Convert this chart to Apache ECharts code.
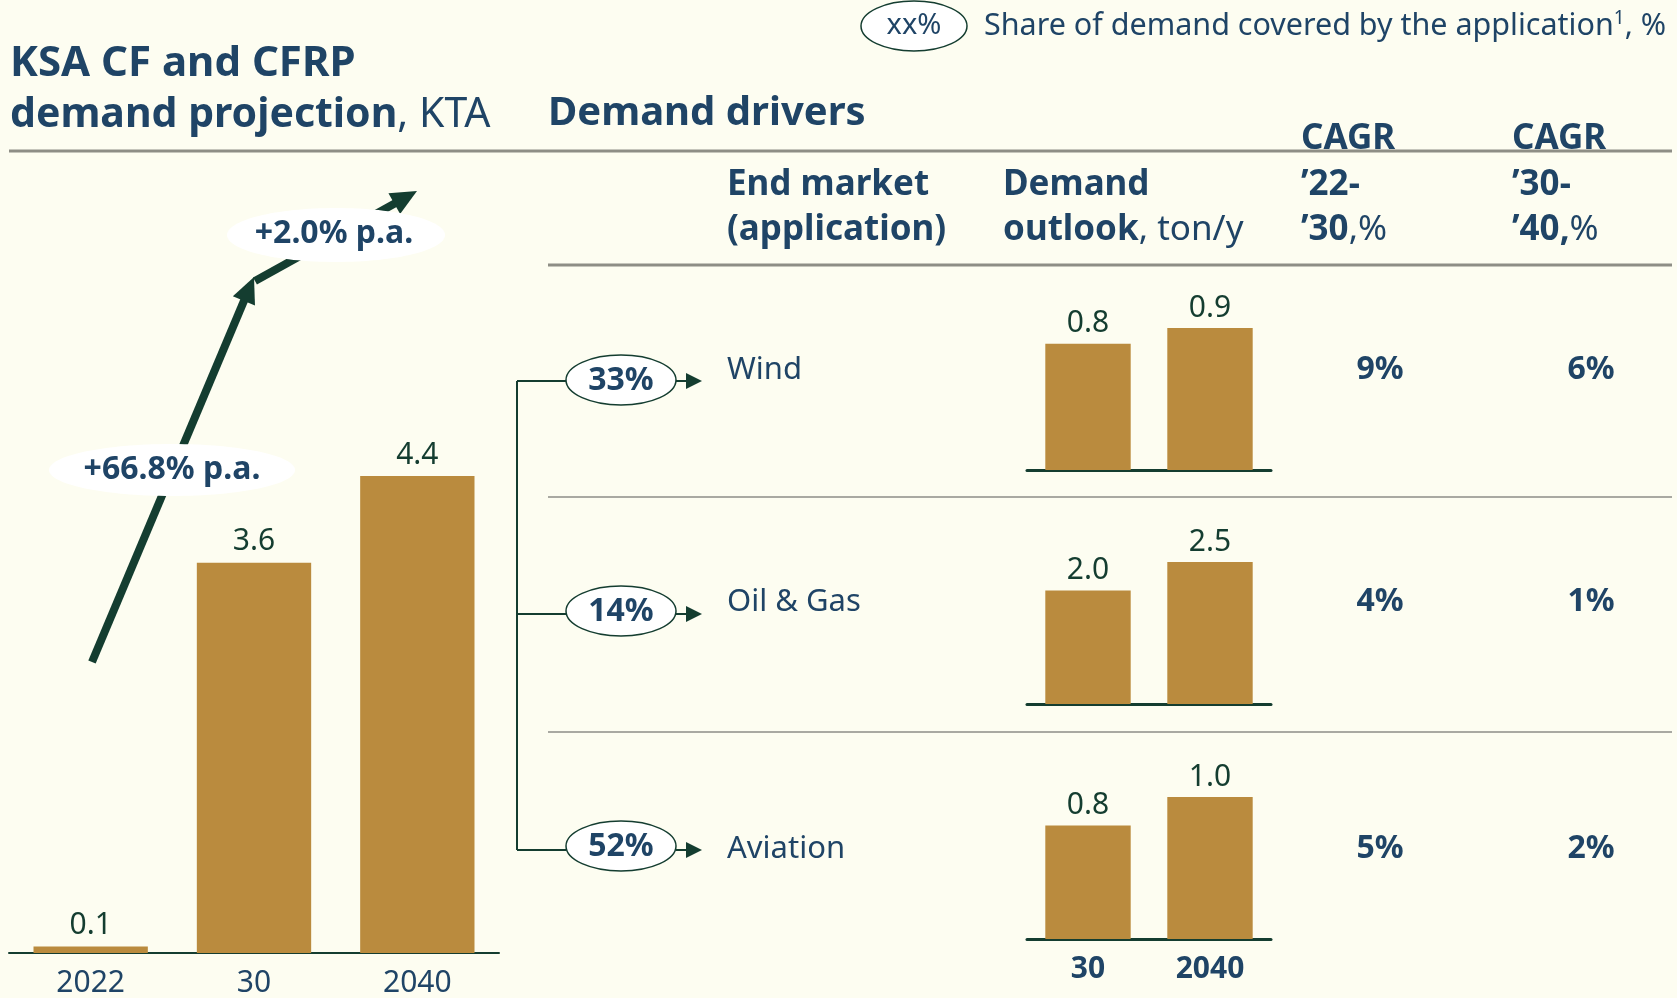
<!DOCTYPE html>
<html><head><meta charset="utf-8">
<script src="https://cdn.jsdelivr.net/npm/echarts@6/dist/echarts.min.js"></script>
<style>html,body{margin:0;padding:0;background:#fdfdf1}#c{width:1677px;height:998px}</style>
</head><body><div id="c"></div>
<script>
// ---- data ----
const years = ['2022', '30', '2040'];
const totalDemand = [0.06, 3.6, 4.4];   // 2022 bar is drawn very thin; label reads 0.1
const growthLabels = ['+66.8% p.a.', '+2.0% p.a.'];
const driverYears = ['30', '2040'];
const endMarkets = ['Wind', 'Oil & Gas', 'Aviation'];
const shares = ['33%', '14%', '52%'];
const windDemand = [0.8, 0.9];
const oilGasDemand = [2.0, 2.5];
const aviationDemand = [0.8, 1.0];
const cagr2230 = ['9%', '4%', '5%'];
const cagr3040 = ['6%', '1%', '2%'];

// ---- styles ----
const FONT = '"Noto Sans", "Open Sans", sans-serif';
const NAVY = '#1f4466';
const GREEN = '#143d30';
const GOLD = '#ba8b3e';
const RULE = '#8e8e86';
const RULE2 = '#a9a9a2';

const chart = echarts.init(document.getElementById('c'));

const driverData = [windDemand, oilGasDemand, aviationDemand];
const rowBase = [470, 704, 939];
const rowY = [370, 602, 849];
const branchY = [381, 614, 850];
const ellY = [380, 611, 846];
const miniH = 142;

const grids = [{ left: 9, width: 490, top: 953 - 5 * 108.4, height: 5 * 108.4 }];
const xAxes = [{
  gridIndex: 0, type: 'category', data: years,
  axisLine: { lineStyle: { color: GREEN, width: 2 } }, axisTick: { show: false },
  axisLabel: { color: NAVY, fontSize: 30, fontFamily: FONT, margin: 15 }
}];
const yAxes = [{ gridIndex: 0, type: 'value', min: 0, max: 5, show: false, splitLine: { show: false } }];
const series = [{
  type: 'bar', xAxisIndex: 0, yAxisIndex: 0, data: totalDemand, barWidth: '70%',
  itemStyle: { color: GOLD },
  label: { show: true, position: 'top', distance: 6, color: GREEN, fontSize: 30, fontFamily: FONT,
    formatter: p => p.value.toFixed(1) }
}];
driverData.forEach((d, i) => {
  grids.push({ left: 1027, width: 244, top: rowBase[i] - miniH, height: miniH });
  xAxes.push({
    gridIndex: i + 1, type: 'category', data: driverYears,
    axisLine: { lineStyle: { color: GREEN, width: 3 } }, axisTick: { show: false },
    axisLabel: { show: i === 2, color: NAVY, fontSize: 30, fontWeight: 'bold', fontFamily: FONT, margin: 15 }
  });
  yAxes.push({ gridIndex: i + 1, type: 'value', min: 0, max: Math.max(...d), show: false, splitLine: { show: false } });
  series.push({
    type: 'bar', xAxisIndex: i + 1, yAxisIndex: i + 1, data: d, barWidth: '70%',
    itemStyle: { color: GOLD },
    label: { show: true, position: 'top', distance: 5, color: GREEN, fontSize: 30, fontFamily: FONT,
      formatter: p => p.value.toFixed(1) }
  });
});

// ---- graphic helpers ----
function txt(x, y, text, o) {
  o = o || {};
  return { type: 'text', silent: true, z: 10, style: Object.assign({
    x, y, text, fill: NAVY, fontSize: 30, fontFamily: FONT, fontWeight: o.bold ? 'bold' : 'normal',
    align: o.align || 'left', textAlign: o.align || 'left', verticalAlign: 'middle', textVerticalAlign: 'middle'
  }, o.style || {}) };
}
function line(x1, y1, x2, y2, color, w) {
  return { type: 'line', silent: true, shape: { x1, y1, x2, y2 }, style: { stroke: color, lineWidth: w } };
}
function arrow(x1, y1, x2, y2, w, hl, hw, color) {
  const dx = x2 - x1, dy = y2 - y1, L = Math.sqrt(dx * dx + dy * dy);
  const ux = dx / L, uy = dy / L, px = -uy, py = ux;
  const bx = x2 - ux * hl, by = y2 - uy * hl;
  return [
    { type: 'line', silent: true, z: 5, shape: { x1, y1, x2: bx + ux * 2, y2: by + uy * 2 }, style: { stroke: color, lineWidth: w } },
    { type: 'polygon', silent: true, z: 5, shape: { points: [[x2, y2], [bx + px * hw / 2, by + py * hw / 2], [bx - px * hw / 2, by - py * hw / 2]] }, style: { fill: color } }
  ];
}
function ell(cx, cy, rx, ry, stroke) {
  return { type: 'ellipse', silent: true, z: 8, shape: { cx, cy, rx, ry },
    style: { fill: '#ffffff', stroke: stroke || null, lineWidth: stroke ? 1.5 : 0 } };
}

const g = [];
// rules
g.push(line(9, 151, 1672, 151, RULE, 3));
g.push(line(548, 265, 1672, 265, RULE, 3));
g.push(line(548, 497, 1672, 497, RULE2, 2));
g.push(line(548, 732, 1672, 732, RULE2, 2));

// titles
const titleRich = { b: { fontWeight: 'bold', fontSize: 41, fontFamily: FONT, fill: NAVY }, r: { fontWeight: 'normal', fontSize: 41, fontFamily: FONT, fill: NAVY } };
g.push(txt(10, 64, 'KSA CF and CFRP', { bold: true, style: { fontSize: 42 } }));
g.push(txt(10, 115, '{b|demand projection}{r|, KTA}', { style: { rich: titleRich } }));
g.push(txt(548, 114, 'Demand drivers', { bold: true, style: { fontSize: 40 } }));

// legend
g.push(ell(914, 26, 53, 25, GREEN));
g.push(txt(914, 26, 'xx%', { align: 'center', style: { fontSize: 29 } }));
g.push(txt(984, 26, '{t|Share of demand covered by the application}{s|1}{t|, %}', { style: { rich: {
  t: { fontSize: 30.5, fontFamily: FONT, fill: NAVY },
  s: { fontSize: 19, fontFamily: FONT, fill: NAVY, verticalAlign: 'top', padding: [0, 0, 14, 0] }
} } }));

// headers
const hRich = { b: { fontWeight: 'bold', fontSize: 35, fontFamily: FONT, fill: NAVY }, r: { fontWeight: 'normal', fontSize: 35, fontFamily: FONT, fill: NAVY } };
g.push(txt(727, 185, 'End market', { bold: true, style: { fontSize: 35 } }));
g.push(txt(727, 230, '(application)', { bold: true, style: { fontSize: 35 } }));
g.push(txt(1003, 185, 'Demand', { bold: true, style: { fontSize: 35 } }));
g.push(txt(1003, 230, '{b|outlook}{r|, ton/y}', { style: { rich: hRich } }));
g.push(txt(1301, 139, 'CAGR', { bold: true, style: { fontSize: 35 } }));
g.push(txt(1301, 185, '\u201922-', { bold: true, style: { fontSize: 35 } }));
g.push(txt(1301, 230, '{b|\u201930}{r|,%}', { style: { rich: hRich } }));
g.push(txt(1512, 139, 'CAGR', { bold: true, style: { fontSize: 35 } }));
g.push(txt(1512, 185, '\u201930-', { bold: true, style: { fontSize: 35 } }));
g.push(txt(1512, 230, '{b|\u201940,}{r|%}', { style: { rich: hRich } }));

// growth arrows
g.push(...arrow(92, 662, 254, 277, 8, 26, 24, GREEN));
g.push(...arrow(255, 281, 417, 191, 8, 26, 24, GREEN));
g.push(ell(172, 470, 123, 26));
g.push(txt(172, 470, growthLabels[0], { bold: true, align: 'center', style: { fontSize: 32 } }));
g.push(ell(336, 235, 109, 27));
g.push(txt(334, 234, growthLabels[1], { bold: true, align: 'center', style: { fontSize: 32 } }));

// tree connectors and rows
g.push(line(517, branchY[0], 517, branchY[2], GREEN, 2));
endMarkets.forEach((m, i) => {
  g.push(line(517, branchY[i], 566, branchY[i], GREEN, 2));
  g.push(line(676, branchY[i], 690, branchY[i], GREEN, 2));
  g.push({ type: 'polygon', silent: true, shape: { points: [[702, branchY[i]], [686, branchY[i] - 8], [686, branchY[i] + 8]] }, style: { fill: GREEN } });
  g.push(ell(621, ellY[i], 55, 25, GREEN));
  g.push(txt(621, ellY[i] + 1, shares[i], { bold: true, align: 'center', style: { fontSize: 32 } }));
  g.push(txt(727, rowY[i], m, { style: { fontSize: 31 } }));
  g.push(txt(1380, rowY[i], cagr2230[i], { bold: true, align: 'center', style: { fontSize: 32 } }));
  g.push(txt(1591, rowY[i], cagr3040[i], { bold: true, align: 'center', style: { fontSize: 32 } }));
});

chart.setOption({
  backgroundColor: '#fdfdf1',
  animation: false,
  grid: grids, xAxis: xAxes, yAxis: yAxes, series: series,
  graphic: g
});
</script></body></html>
